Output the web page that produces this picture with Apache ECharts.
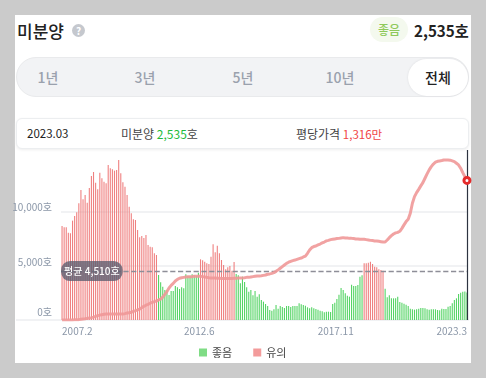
<!DOCTYPE html>
<html>
<head>
<meta charset="utf-8">
<script src="https://cdn.jsdelivr.net/npm/echarts@6/dist/echarts.min.js"></script>
<style>
  * { box-sizing: border-box; }
  html, body { margin: 0; width: 486px; height: 378px; overflow: hidden; background: #cbcbcb; font-family: "Noto Sans CJK KR", sans-serif; }
  .card { position: absolute; left: 15px; top: 15px; width: 456px; height: 348px; background: #fff; }
  .abs { position: absolute; white-space: nowrap; line-height: 1; }
  .tabs { position: absolute; left: 16px; top: 57px; width: 453px; height: 40px; background: #f2f3f5; border: 1px solid #e9eaec; border-radius: 20px; }
  .tab { position: absolute; top: 77px; transform: translate(-50%, -50%); font-size: 14px; font-weight: 500; color: #9aa1ad; line-height: 1; white-space: nowrap; }
  .on { position: absolute; left: 408px; top: 59px; width: 60px; height: 37px; background: #fff; border-radius: 19px; box-shadow: 0 0 2px #d8d9dc; }
  .info { position: absolute; left: 16px; top: 118px; width: 453px; height: 31px; border: 1px solid #eceef0; border-radius: 6px; background: #fff; box-shadow: 0 1px 3px #eeeeee; }
  #chart { position: absolute; left: 0; top: 0; width: 486px; height: 378px; }
</style>
</head>
<body>
<div class="card"></div>
<div class="abs" style="left:17px;top:22px;font-size:17px;font-weight:500;color:#222">미분양</div>
<div class="abs" style="left:72px;top:24px;width:13px;height:13px;border-radius:50%;background:#c5c8ce;color:#fff;font-size:10px;font-weight:700;line-height:13px;text-align:center">?</div>
<div class="abs" style="left:370px;top:17px;width:38px;height:25px;border-radius:13px;background:#f4f9ee;color:#8ec95a;font-size:12px;font-weight:500;line-height:25px;text-align:center">좋음</div>
<div class="abs" style="left:414px;top:23px;font-size:15.2px;font-weight:700;color:#222">2,535호</div>
<div class="tabs"></div>
<div class="on"></div>
<div class="tab" style="left:48px">1년</div>
<div class="tab" style="left:145px">3년</div>
<div class="tab" style="left:243px">5년</div>
<div class="tab" style="left:340px">10년</div>
<div class="tab" style="left:438px;color:#222">전체</div>
<div class="info"></div>
<div class="abs" style="left:27px;top:128px;font-size:11.5px;color:#222">2023.03</div>
<div class="abs" style="left:121px;top:128px;font-size:12px;color:#444">미분양 <span style="color:#1dbb3a">2,535</span>호</div>
<div class="abs" style="left:296px;top:128px;font-size:12px;color:#444">평당가격 <span style="color:#f04545;font-size:11.5px">1,316만</span></div>
<div id="chart"></div>
<script>
// 미분양 (호), 2007.2 ~ 2023.3 월별
var unsold = [
  8672,8549,8549,8057,7995,9164,9594,9932,10763,11993,11132,11531,10824,12177,13284,13653,12669,12054,13592,13069,
  12761,12608,14299,13991,13899,13776,13838,14760,13530,12700,12300,11531,10455,9840,9287,9225,8303,7626,7749,7565,
  7841,6919,6765,6704,6150,5996,4151,3475,3075,2768,2768,2306,2675,2675,3137,3014,2860,3014,2921,4213,
  4059,4059,4213,4121,4059,4367,5597,5504,5381,5228,5166,5843,6980,6242,6857,6150,5535,5074,4674,4859,
  4982,4551,5351,4244,4121,3383,3998,3506,3014,2614,2768,2276,2675,2153,2368,1845,1691,1476,1292,923,
  861,984,1384,1046,1292,1199,1107,1292,1292,1199,1292,1292,1292,1538,1445,1384,1322,1169,1076,1169,
  1076,1015,953,861,800,707,769,769,738,1476,1599,1937,2337,2952,2768,2460,2245,2153,3260,3137,
  3137,3229,3998,4121,5228,5228,5289,5381,5166,4920,4859,4674,4613,4551,2891,2091,2276,1999,1999,1999,
  2153,1661,1599,1507,1415,1292,1046,984,953,984,1046,1107,1107,1076,984,953,984,984,984,923,
  892,1046,1015,1015,1230,1292,1538,1845,1999,2400,2520,2600,2620,2535
];
// 평당가격 (만)
var price = [
  550,550,550,550,550,550,551,551,552,554,556,557,559,561,563,566,570,574,577,579,
  581,583,583,583,583,583,583,583,583,583,585,588,590,592,598,601,605,610,618,625,
  631,636,642,647,651,654,660,665,676,691,706,726,740,751,764,773,779,782,784,786,
  788,788,788,790,790,790,790,788,786,784,782,781,781,781,779,779,778,778,778,778,
  778,778,779,779,781,781,781,782,784,784,786,788,790,792,792,793,795,797,801,803,
  806,810,817,825,834,843,852,861,867,872,876,879,883,887,890,896,901,916,934,947,
  953,956,962,967,973,978,984,987,991,993,995,997,998,1000,1002,1000,1000,998,998,997,
  995,995,993,993,993,991,989,987,986,984,984,982,980,978,978,989,1002,1013,1022,1028,
  1031,1037,1053,1072,1090,1103,1136,1191,1227,1249,1267,1286,1304,1328,1352,1374,1392,1406,1416,1421,
  1423,1425,1428,1428,1428,1427,1423,1419,1410,1401,1383,1359,1337,1316
];
var average = 4510;
var yTicks = [0, 5000, 10000];
var xLabels = ['2007.2', '2012.6', '2017.11', '2023.3'];

var months = [];
for (var y = 2007, m = 2; months.length < unsold.length; m++) {
  if (m > 12) { m = 1; y++; }
  months.push(y + '.' + m);
}
var last = months.length - 1;
var goodValues = unsold.map(function (v) { return v < 4500 ? v : null; });
var warnValues = unsold.map(function (v) { return v >= 4500 ? v : null; });

var chart = echarts.init(document.getElementById('chart'), null, { renderer: 'canvas' });
chart.setOption({
  animation: false,
  backgroundColor: 'transparent',
  textStyle: { fontFamily: '"Noto Sans CJK KR", sans-serif' },
  grid: { left: 61, right: 18, top: 150, bottom: 58 },
  graphic: [{
    type: 'line', z: 0, silent: true,
    shape: { x1: 16, y1: 320, x2: 61, y2: 320 },
    style: { stroke: '#f1f2f4', lineWidth: 2 }
  }],
  legend: {
    data: [
      { name: '좋음', itemStyle: { color: '#7fdc85', opacity: 1 } },
      { name: '유의', itemStyle: { color: '#f39b9b', opacity: 1 } }
    ],
    left: 199, top: 347, padding: 0, icon: 'rect', itemWidth: 8, itemHeight: 8, itemGap: 21,
    selectedMode: false,
    textStyle: { color: '#444', fontSize: 11 }
  },
  xAxis: {
    type: 'category', data: months,
    axisLine: { lineStyle: { color: '#f1f2f4', width: 2 } },
    axisTick: { show: false },
    axisLabel: {
      color: '#8b97a8', fontSize: 10, margin: 6,
      alignMinLabel: 'left', alignMaxLabel: 'right',
      interval: function (i, name) { return xLabels.indexOf(name) >= 0; },
      rich: { mid: { padding: [0, 0, 0, 6], fontSize: 10, color: '#8b97a8' } },
      formatter: function (v) {
        return v === '2012.6' || v === '2017.11' ? '{mid|' + v + '}' : v;
      }
    }
  },
  yAxis: [{
    type: 'value', min: 0, max: 15680,
    axisLine: { show: false }, axisTick: { show: false, customValues: yTicks },
    splitLine: { lineStyle: { color: '#f1f2f4', width: 2 } },
    axisLabel: {
      customValues: yTicks, color: '#8b97a8', fontSize: 10, margin: 9,
      verticalAlign: 'bottom', lineHeight: 8,
      rich: { zero: { lineHeight: 16, fontSize: 10, color: '#8b97a8' } },
      formatter: function (v) {
        var text = v.toLocaleString('en-US') + '호';
        return v === 0 ? '{zero|' + text + '}' : text;
      }
    }
  }, {
    type: 'value', min: 550, max: 1483, show: false, splitLine: { show: false }
  }],
  series: [{
    name: '좋음', type: 'bar', stack: 'unsold', data: goodValues,
    barWidth: 1.1,
    itemStyle: { color: '#55d465' }
  }, {
    name: '유의', type: 'bar', stack: 'unsold', data: warnValues,
    barWidth: 1.1,
    itemStyle: { color: '#ef8080' },
    markLine: {
      silent: true, symbol: 'none', z: 3,
      label: { show: false },
      data: [
        { yAxis: average, lineStyle: { color: '#8e8e98', type: 'dashed', width: 1.3 } },
        { xAxis: months[last], lineStyle: { color: '#2d3340', type: 'solid', width: 1.2 } }
      ]
    },
    markPoint: {
      silent: true, symbol: 'circle', symbolSize: 0, z: 6,
      data: [{ coord: [months[0], average] }],
      label: {
        position: 'right', distance: -1, formatter: '평균 4,510호',
        color: '#fff', fontSize: 10, fontWeight: 500,
        backgroundColor: 'rgba(94,94,112,0.78)', borderRadius: 9, padding: [5, 3, 5, 3]
      }
    }
  }, {
    name: '평당가격', type: 'line', yAxisIndex: 1, data: price, z: 5,
    showSymbol: false,
    lineStyle: { color: '#ef9898', width: 3, opacity: 0.9 },
    markPoint: {
      silent: true, symbol: 'circle', symbolSize: 6, z: 7,
      data: [{ coord: [months[last], price[last]] }],
      itemStyle: { color: '#fff', borderColor: '#e52b2b', borderWidth: 3 },
      label: { show: false }
    }
  }]
});
</script>
</body>
</html>
